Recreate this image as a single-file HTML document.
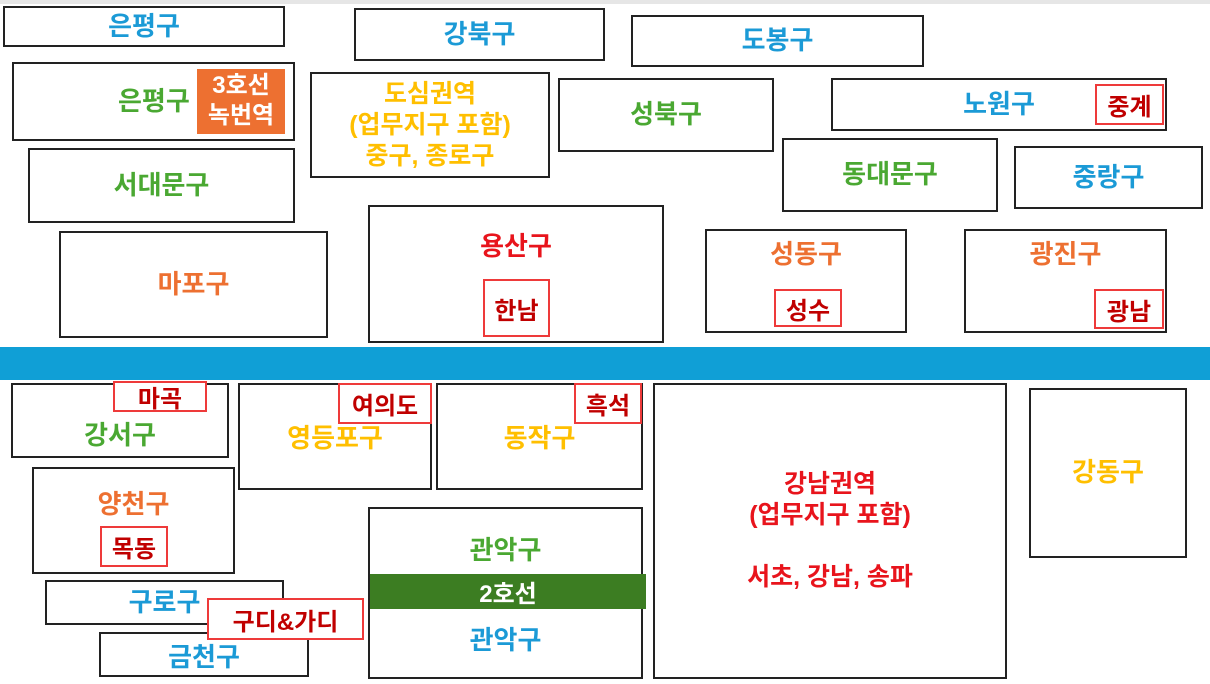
<!DOCTYPE html><html><head><meta charset="utf-8"><style>
body{margin:0;width:1210px;height:684px;background:#fff;position:relative;overflow:hidden;font-family:"Liberation Sans","Noto Sans CJK KR",sans-serif;font-weight:bold}
.b{position:absolute;border:2px solid #222;box-sizing:border-box;background:#fff;display:flex;align-items:center;justify-content:center;text-align:center;font-size:26px;line-height:1.2}
.r{position:absolute;border:2px solid #ee3a3a;box-sizing:border-box;background:#fff;color:#c00000;display:flex;align-items:center;justify-content:center;font-size:24px}
.t{position:absolute;font-size:26px;text-align:center}
.bl{color:#1b9ad6}.gr{color:#4aa832}.or{color:#ed7031}.ye{color:#ffbf00}.rd{color:#e8141c}
</style></head><body>
<div style="position:absolute;left:0;top:0;width:1210px;height:4px;background:#e6e6e6"></div>
<div class="b bl" style="left:3px;top:6px;width:282px;height:41px">은평구</div>
<div class="b gr" style="left:12px;top:62px;width:283px;height:79px;justify-content:flex-start;padding-left:104px">은평구</div>
<div style="position:absolute;left:197px;top:69px;width:88px;height:65px;background:#ed7031;color:#fff;font-size:24px;line-height:30px;text-align:center;padding-top:2px;box-sizing:border-box">3호선<br>녹번역</div>
<div class="b gr" style="left:28px;top:148px;width:267px;height:75px">서대문구</div>
<div class="b or" style="left:59px;top:231px;width:269px;height:107px">마포구</div>
<div class="b bl" style="left:354px;top:8px;width:251px;height:53px">강북구</div>
<div class="b ye" style="left:310px;top:72px;width:240px;height:106px;font-size:25px;line-height:31px">도심권역<br>(업무지구 포함)<br>중구, 종로구</div>
<div class="b rd" style="left:368px;top:205px;width:296px;height:138px;align-items:flex-start;padding-top:24px">용산구</div>
<div class="r" style="left:483px;top:279px;width:67px;height:58px">한남</div>
<div class="b bl" style="left:631px;top:15px;width:293px;height:52px">도봉구</div>
<div class="b gr" style="left:558px;top:78px;width:216px;height:74px">성북구</div>
<div class="b gr" style="left:782px;top:138px;width:216px;height:74px">동대문구</div>
<div class="b bl" style="left:831px;top:78px;width:336px;height:53px">노원구</div>
<div class="r" style="left:1095px;top:84px;width:69px;height:41px">중계</div>
<div class="b bl" style="left:1014px;top:146px;width:189px;height:63px">중랑구</div>
<div class="b or" style="left:705px;top:229px;width:202px;height:104px;align-items:flex-start;padding-top:8px">성동구</div>
<div class="r" style="left:774px;top:289px;width:68px;height:38px">성수</div>
<div class="b or" style="left:964px;top:229px;width:203px;height:104px;align-items:flex-start;padding-top:8px">광진구</div>
<div class="r" style="left:1094px;top:289px;width:70px;height:40px">광남</div>
<div style="position:absolute;left:0;top:347px;width:1210px;height:33px;background:#109fd6"></div>
<div class="b gr" style="left:11px;top:383px;width:218px;height:75px;align-items:flex-end;padding-bottom:5px">강서구</div>
<div class="r" style="left:113px;top:381px;width:94px;height:31px">마곡</div>
<div class="b ye" style="left:238px;top:383px;width:194px;height:107px;align-items:flex-start;padding-top:38px">영등포구</div>
<div class="r" style="left:338px;top:383px;width:94px;height:41px">여의도</div>
<div class="b ye" style="left:436px;top:383px;width:207px;height:107px;align-items:flex-start;padding-top:38px">동작구</div>
<div class="r" style="left:574px;top:383px;width:68px;height:41px">흑석</div>
<div class="b or" style="left:32px;top:467px;width:203px;height:107px;align-items:flex-start;padding-top:20px">양천구</div>
<div class="r" style="left:100px;top:526px;width:68px;height:41px">목동</div>
<div class="b bl" style="left:45px;top:580px;width:239px;height:45px">구로구</div>
<div class="b bl" style="left:99px;top:632px;width:210px;height:45px;align-items:flex-end;padding-bottom:2px">금천구</div>
<div class="r" style="left:207px;top:598px;width:157px;height:42px">구디&amp;가디</div>
<div class="b" style="left:368px;top:507px;width:275px;height:172px"></div>
<div class="t gr" style="left:368px;top:530px;width:275px">관악구</div>
<div style="position:absolute;left:370px;top:574px;width:276px;height:35px;background:#3c7d22;color:#fff;font-size:24px;display:flex;align-items:center;justify-content:center">2호선</div>
<div class="t bl" style="left:368px;top:620px;width:275px">관악구</div>
<div class="b rd" style="left:653px;top:383px;width:354px;height:296px;font-size:25px;line-height:31px">강남권역<br>(업무지구 포함)<br><br>서초, 강남, 송파</div>
<div class="b ye" style="left:1029px;top:388px;width:158px;height:170px">강동구</div>
</body></html>
